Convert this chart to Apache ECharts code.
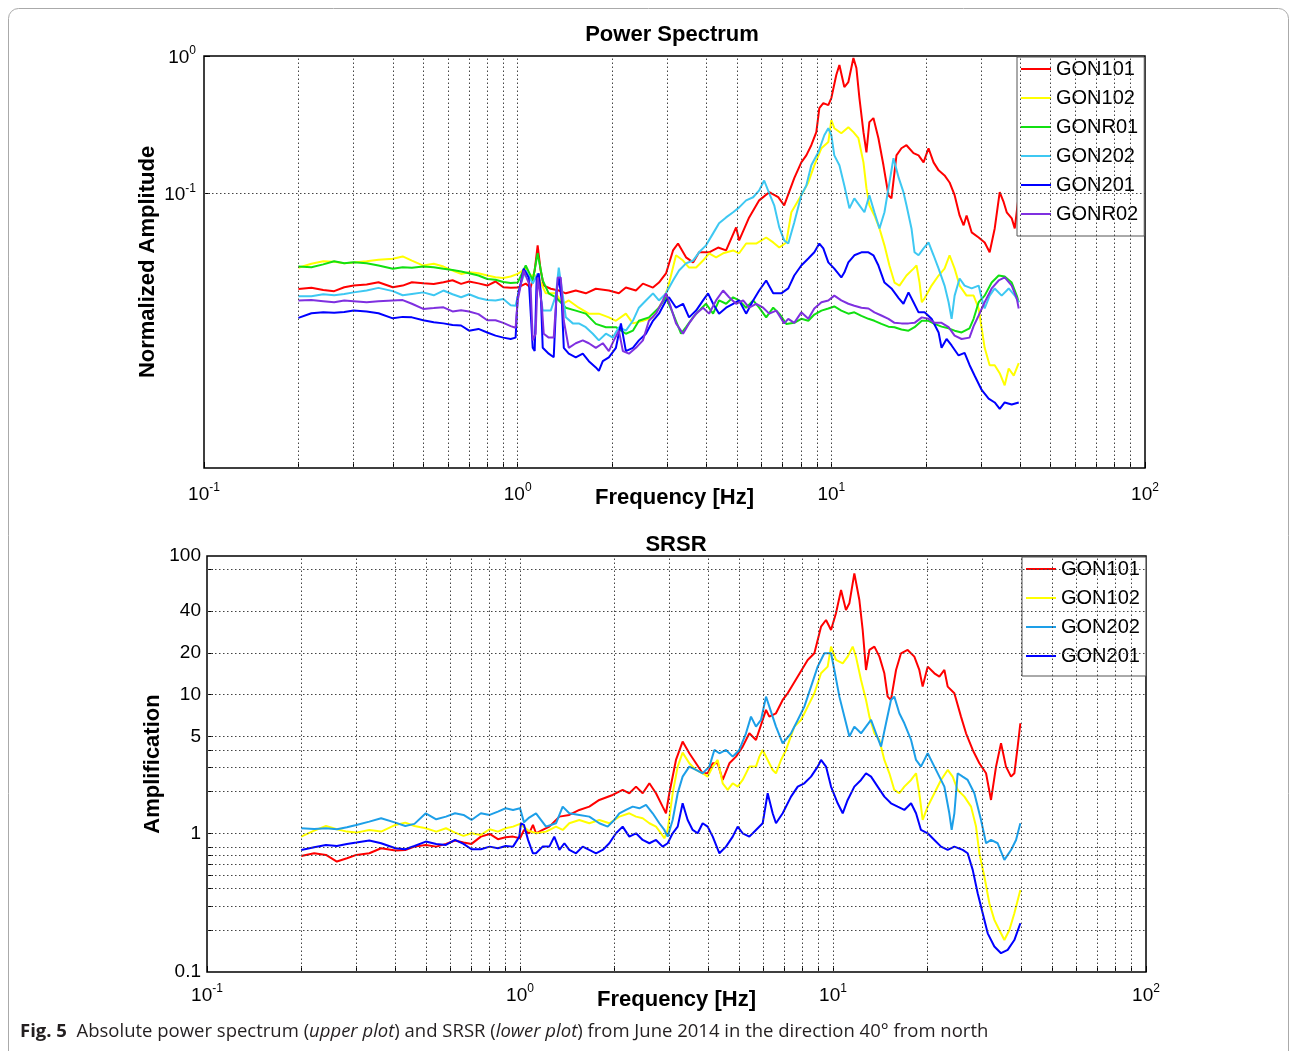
<!DOCTYPE html>
<html>
<head>
<meta charset="utf-8">
<script src="https://cdn.jsdelivr.net/npm/echarts@6/dist/echarts.min.js"></script>
<style>
html, body { margin: 0; padding: 0; background: #fff; }
#chart { width: 1290px; height: 1051px; }
</style>
</head>
<body>
<div id="chart"></div>
<script>
// ---- data: [frequency Hz, value] ----
var ps_gon101 = [[0.2,0.0201],[0.22,0.0205],[0.24,0.0198],[0.26,0.0194],[0.28,0.0207],[0.3,0.0213],[0.33,0.0217],[0.36,0.0225],[0.4,0.0207],[0.43,0.0213],[0.46,0.0225],[0.5,0.0221],[0.54,0.0219],[0.58,0.0225],[0.62,0.0233],[0.66,0.0219],[0.7,0.0228],[0.75,0.0221],[0.8,0.0213],[0.85,0.0228],[0.9,0.0207],[0.95,0.0205],[1.0,0.0206],
  [1.061,0.0220],[1.1,0.0206],[1.133,0.0274],[1.158,0.0418],[1.184,0.0274],[1.211,0.0213],[1.275,0.0202],[1.352,0.0196],[1.424,0.0187],[1.532,0.0196],[1.649,0.0187],[1.775,0.0202],[1.953,0.0196],[2.102,0.0187],[2.213,0.0206],[2.382,0.0196],[2.508,0.0220],[2.7,0.0206],[2.821,0.0224],[2.971,0.0261],[3.128,0.0384],[3.245,0.0431],[3.441,0.0342],[3.624,0.0314],[3.787,0.0372],[4.076,0.0372],[4.355,0.0403],[4.618,0.0384],[4.971,0.0565],[5.083,0.0454],[5.47,0.0668],[5.888,0.0889],[6.339,0.102],[6.771,0.0937],[7.075,0.0818],[7.617,0.129],[8.021,0.168],[8.322,0.189],[8.633,0.224],[8.957,0.279],[9.157,0.417],[9.428,0.454],[9.781,0.439],[10.0,0.494],[10.37,0.727],[10.61,0.86],[11.0,0.594],[11.33,0.646],[11.76,0.967],[12.02,0.818],[12.29,0.494],[12.66,0.279],[12.94,0.199],[13.22,0.33],[13.62,0.353],[14.13,0.252],[14.66,0.16],[15.21,0.0969],[15.55,0.0919],[16.13,0.189],[16.73,0.213],[17.36,0.224],[18.28,0.196],[18.97,0.189],[19.68,0.168],[20.41,0.213],[21.18,0.168],[21.98,0.147],[22.96,0.135],[23.82,0.12],[24.72,0.0969],[25.64,0.069],[26.41,0.0585],[26.99,0.069],[28.01,0.052],[29.49,0.0477],[30.82,0.0439],[31.97,0.0372],[33.18,0.0555],[34.42,0.102],[35.44,0.0862],[36.24,0.0728],[37.6,0.0657],[38.44,0.0555],[39.58,0.0969]];

var ps_gon102 = [[0.2,0.0287],[0.22,0.0307],[0.24,0.032],[0.26,0.0318],[0.28,0.031],[0.3,0.0313],[0.33,0.032],[0.36,0.0328],[0.4,0.0334],[0.43,0.0347],[0.46,0.0324],[0.5,0.0298],[0.54,0.0307],[0.58,0.0293],[0.62,0.0274],[0.66,0.0259],[0.7,0.0266],[0.75,0.0262],[0.8,0.0252],[0.85,0.0245],[0.9,0.0242],[0.95,0.0248],[1.0,0.0259],
  [1.061,0.0283],[1.1,0.0252],[1.158,0.0252],[1.229,0.0187],[1.323,0.0187],[1.393,0.0157],[1.455,0.0166],[1.566,0.0147],[1.686,0.0133],[1.815,0.0133],[1.953,0.0125],[2.057,0.0118],[2.213,0.0133],[2.33,0.0113],[2.508,0.0118],[2.7,0.0125],[2.906,0.0166],[3.015,0.0206],[3.198,0.0354],[3.367,0.0324],[3.518,0.0288],[3.706,0.0288],[3.9,0.0324],[4.076,0.0366],[4.291,0.0342],[4.518,0.0366],[4.863,0.0384],[5.083,0.0366],[5.35,0.0431],[5.76,0.0431],[6.199,0.0477],[6.527,0.0439],[6.823,0.0403],[7.184,0.0439],[7.457,0.0728],[8.021,0.0969],[8.445,0.12],[8.825,0.16],[9.3,0.213],[9.781,0.236],[10.0,0.341],[10.22,0.298],[10.76,0.274],[11.33,0.303],[11.76,0.279],[12.2,0.252],[12.66,0.168],[12.94,0.109],[13.22,0.0818],[13.72,0.069],[14.24,0.0555],[14.77,0.0418],[15.32,0.0298],[15.9,0.0224],[16.49,0.0213],[17.36,0.0252],[18.28,0.0283],[18.69,0.0298],[19.11,0.0224],[19.43,0.0161],[19.83,0.0172],[20.87,0.0213],[21.98,0.0252],[22.96,0.0283],[23.82,0.0354],[24.72,0.0283],[25.64,0.0213],[26.99,0.018],[28.42,0.018],[29.49,0.0145],[30.15,0.0104],[30.82,0.0075],[31.97,0.0056],[33.18,0.0056],[34.42,0.0049],[35.7,0.004],[36.77,0.0053],[38.15,0.0047],[39.58,0.0058]];

var ps_gonr01 = [[0.2,0.0293],[0.22,0.029],[0.24,0.0304],[0.26,0.032],[0.28,0.031],[0.3,0.0315],[0.33,0.031],[0.36,0.0298],[0.4,0.0282],[0.43,0.029],[0.46,0.0287],[0.5,0.0293],[0.54,0.029],[0.58,0.0282],[0.62,0.0277],[0.66,0.027],[0.7,0.0262],[0.75,0.0252],[0.8,0.0238],[0.85,0.0235],[0.9,0.0226],[0.95,0.0222],[1.0,0.0224],
  [1.061,0.0298],[1.117,0.0232],[1.158,0.0366],[1.202,0.0232],[1.256,0.0187],[1.323,0.0175],[1.424,0.0147],[1.532,0.014],[1.649,0.0133],[1.775,0.0112],[1.911,0.0106],[2.057,0.0106],[2.213,0.0095],[2.33,0.01],[2.435,0.0118],[2.621,0.0125],[2.821,0.0147],[2.971,0.0175],[3.128,0.0133],[3.318,0.0095],[3.441,0.0106],[3.624,0.0125],[3.787,0.014],[3.986,0.0157],[4.198,0.0133],[4.386,0.0166],[4.618,0.0157],[4.863,0.0175],[5.083,0.0166],[5.35,0.0147],[5.634,0.0166],[5.888,0.0147],[6.199,0.0125],[6.527,0.0147],[6.823,0.0133],[7.184,0.0112],[7.617,0.0114],[8.021,0.0122],[8.445,0.0118],[8.825,0.0131],[9.3,0.014],[9.781,0.0145],[10.22,0.015],[10.76,0.014],[11.33,0.0133],[11.84,0.0136],[12.47,0.0128],[13.13,0.0122],[13.72,0.0118],[14.44,0.0112],[15.21,0.0107],[15.9,0.0106],[16.73,0.0102],[17.62,0.01],[18.42,0.0106],[19.43,0.0118],[20.41,0.0118],[21.34,0.0112],[22.46,0.0107],[23.65,0.0104],[24.72,0.01],[26.02,0.0097],[27.57,0.0104],[28.42,0.0122],[29.49,0.0161],[30.82,0.018],[32.45,0.0224],[34.16,0.0252],[35.7,0.0248],[37.59,0.0224],[39.0,0.018],[39.58,0.0161]];

var ps_gon202 = [[0.2,0.0178],[0.22,0.0178],[0.24,0.0184],[0.26,0.0181],[0.28,0.0185],[0.3,0.019],[0.33,0.0196],[0.36,0.0205],[0.4,0.0194],[0.43,0.0181],[0.46,0.0185],[0.5,0.019],[0.54,0.0181],[0.58,0.0196],[0.62,0.0184],[0.66,0.0175],[0.7,0.0184],[0.75,0.0173],[0.8,0.0167],[0.85,0.0166],[0.9,0.017],[0.95,0.0153],[0.985,0.0152],
  [1.022,0.022],[1.061,0.0274],[1.117,0.022],[1.158,0.0261],[1.202,0.014],[1.275,0.014],[1.323,0.018],[1.352,0.0288],[1.393,0.018],[1.424,0.0125],[1.499,0.0113],[1.566,0.0113],[1.649,0.0106],[1.736,0.0095],[1.815,0.0085],[1.911,0.0095],[2.012,0.0089],[2.102,0.0106],[2.213,0.01],[2.33,0.0118],[2.435,0.0147],[2.564,0.0166],[2.7,0.0187],[2.821,0.0166],[2.971,0.0187],[3.128,0.0232],[3.269,0.0274],[3.441,0.0309],[3.624,0.0324],[3.787,0.0372],[3.986,0.0418],[4.198,0.0511],[4.386,0.0606],[4.618,0.0668],[4.863,0.0728],[5.083,0.079],[5.35,0.0889],[5.634,0.0937],[5.888,0.105],[6.107,0.124],[6.339,0.1],[6.575,0.0818],[6.823,0.0565],[7.075,0.0454],[7.29,0.0431],[7.617,0.0614],[8.021,0.0969],[8.322,0.114],[8.633,0.16],[9.089,0.199],[9.497,0.265],[9.781,0.298],[10.0,0.265],[10.22,0.189],[10.61,0.16],[11.0,0.114],[11.42,0.0777],[11.84,0.0919],[12.29,0.0818],[12.75,0.0728],[13.22,0.0969],[13.72,0.0728],[14.24,0.0555],[14.77,0.0728],[15.32,0.12],[15.78,0.18],[16.41,0.129],[16.98,0.102],[17.36,0.0818],[18.01,0.0555],[18.42,0.0372],[18.97,0.0354],[19.68,0.0397],[20.41,0.0439],[21.18,0.0354],[21.98,0.0283],[22.96,0.0213],[23.65,0.0161],[24.18,0.0122],[24.72,0.018],[25.64,0.024],[26.6,0.0213],[28.01,0.0203],[29.49,0.0213],[30.15,0.0172],[30.82,0.0145],[31.97,0.018],[33.18,0.0203],[34.92,0.018],[36.77,0.0203],[38.44,0.018],[39.58,0.0161]];

var ps_gon201 = [[0.2,0.0124],[0.22,0.0134],[0.24,0.0136],[0.26,0.0135],[0.28,0.0137],[0.3,0.014],[0.33,0.0138],[0.36,0.0134],[0.4,0.0123],[0.43,0.0126],[0.46,0.0125],[0.5,0.0119],[0.54,0.0115],[0.58,0.0113],[0.62,0.011],[0.66,0.0109],[0.7,0.01],[0.75,0.0103],[0.8,0.0097],[0.85,0.0092],[0.9,0.0089],[0.95,0.0087],[0.985,0.0089],
  [1.0,0.0175],[1.022,0.022],[1.045,0.0283],[1.084,0.0244],[1.117,0.0075],[1.133,0.0071],[1.15,0.0244],[1.167,0.0261],[1.184,0.0196],[1.202,0.0075],[1.256,0.0068],[1.303,0.0064],[1.332,0.0196],[1.352,0.0244],[1.382,0.0166],[1.403,0.0075],[1.455,0.0068],[1.532,0.0064],[1.613,0.0068],[1.686,0.006],[1.775,0.0054],[1.815,0.0051],[1.868,0.006],[1.953,0.0064],[2.057,0.0075],[2.134,0.0113],[2.213,0.0071],[2.33,0.0075],[2.435,0.0085],[2.564,0.0095],[2.7,0.0118],[2.821,0.0133],[2.971,0.0166],[3.037,0.0175],[3.198,0.0147],[3.367,0.0157],[3.518,0.0125],[3.706,0.014],[3.9,0.0166],[4.046,0.0187],[4.198,0.0157],[4.386,0.0133],[4.618,0.0147],[4.863,0.0157],[5.083,0.0166],[5.35,0.0133],[5.634,0.0166],[5.888,0.0196],[6.199,0.0232],[6.527,0.0187],[6.923,0.0187],[7.29,0.0203],[7.617,0.0252],[8.021,0.0298],[8.445,0.0335],[8.825,0.0372],[9.157,0.0431],[9.428,0.0397],[9.781,0.0314],[10.22,0.0283],[10.76,0.0244],[11.0,0.0265],[11.33,0.0314],[11.84,0.0354],[12.47,0.0372],[13.13,0.0372],[13.62,0.0354],[14.13,0.0298],[14.77,0.0224],[15.55,0.0203],[16.41,0.0172],[16.98,0.0157],[17.62,0.019],[18.28,0.0161],[18.97,0.0136],[19.83,0.0136],[20.87,0.0122],[21.98,0.0097],[22.46,0.0075],[23.3,0.0087],[24.18,0.0078],[25.45,0.0066],[26.6,0.0069],[27.6,0.0056],[28.64,0.0047],[30.15,0.0037],[31.73,0.0032],[33.18,0.003],[34.42,0.0027],[35.7,0.003],[37.59,0.0029],[39.58,0.003]];

var ps_gonr02 = [[0.2,0.0166],[0.22,0.0167],[0.24,0.0164],[0.26,0.0161],[0.28,0.0166],[0.3,0.0164],[0.33,0.0161],[0.36,0.0164],[0.4,0.0166],[0.43,0.0167],[0.46,0.0157],[0.5,0.0144],[0.54,0.0146],[0.58,0.0148],[0.62,0.0138],[0.66,0.0141],[0.7,0.0138],[0.75,0.0132],[0.8,0.0119],[0.85,0.0119],[0.9,0.0114],[0.95,0.0108],[0.985,0.0105],
  [1.0,0.0166],[1.045,0.0274],[1.1,0.0206],[1.117,0.0085],[1.141,0.0095],[1.158,0.0244],[1.193,0.0157],[1.211,0.0095],[1.256,0.0089],[1.303,0.0089],[1.342,0.0244],[1.372,0.0244],[1.403,0.0118],[1.455,0.0075],[1.532,0.0081],[1.613,0.0085],[1.686,0.0081],[1.775,0.0075],[1.868,0.0081],[1.953,0.0071],[2.026,0.0085],[2.102,0.01],[2.165,0.0071],[2.263,0.0068],[2.382,0.0075],[2.508,0.0085],[2.621,0.0118],[2.76,0.0133],[2.906,0.0166],[2.971,0.0187],[3.082,0.0147],[3.198,0.0113],[3.367,0.0095],[3.518,0.0113],[3.706,0.0133],[3.9,0.0147],[4.076,0.0133],[4.291,0.0166],[4.518,0.0196],[4.722,0.0175],[4.971,0.0157],[5.234,0.0166],[5.47,0.0147],[5.76,0.0157],[6.062,0.0147],[6.339,0.0133],[6.674,0.014],[7.075,0.0113],[7.29,0.0122],[7.617,0.0114],[8.021,0.0136],[8.445,0.0122],[8.825,0.0145],[9.3,0.0161],[9.781,0.0166],[10.22,0.018],[10.76,0.0166],[11.33,0.0157],[11.84,0.0152],[12.47,0.0147],[13.13,0.0145],[13.72,0.0136],[14.44,0.0129],[15.21,0.0122],[15.9,0.0114],[16.73,0.0113],[17.62,0.0113],[18.42,0.0114],[19.43,0.0125],[20.41,0.0122],[21.34,0.0114],[22.46,0.0114],[23.65,0.0106],[24.72,0.0092],[26.02,0.0087],[27.57,0.0089],[28.42,0.0108],[29.49,0.0129],[30.82,0.0161],[32.45,0.0203],[34.16,0.0232],[35.7,0.0244],[37.59,0.0213],[39.0,0.0172],[39.58,0.0145]];

var sr_gon101 = [[0.2,0.687],[0.22,0.718],[0.24,0.699],[0.26,0.626],[0.28,0.661],[0.3,0.699],[0.33,0.718],[0.36,0.78],[0.4,0.751],[0.43,0.759],[0.46,0.802],[0.5,0.825],[0.54,0.802],[0.58,0.839],[0.62,0.887],[0.66,0.858],[0.7,0.839],[0.75,0.947],[0.8,0.99],[0.85,0.907],[0.9,0.936],[0.95,0.947],[1.0,0.922],
  [1.03,1.058],[1.07,1.0],[1.1,1.15],[1.125,1.001],[1.181,1.058],[1.241,1.118],[1.336,1.32],[1.437,1.357],[1.547,1.475],[1.665,1.558],[1.792,1.741],[1.977,1.891],[2.128,2.056],[2.235,1.945],[2.348,2.173],[2.466,1.945],[2.59,2.296],[2.72,1.945],[2.856,1.558],[2.927,1.395],[3.0,1.945],[3.15,3.382],[3.308,4.586],[3.475,3.778],[3.65,3.2],[3.833,2.711],[3.977,2.711],[4.128,3.2],[4.281,3.2],[4.442,2.427],[4.666,3.2],[4.899,3.574],[5.145,4.221],[5.404,5.267],[5.675,4.716],[5.961,6.571],[6.109,7.76],[6.26,6.947],[6.574,7.34],[6.906,9.16],[7.165,10.23],[7.716,13.5],[8.301,17.8],[8.719,19.88],[9.157,30.94],[9.5,34.56],[9.856,29.28],[10.22,38.61],[10.61,56.88],[11.0,40.8],[11.28,45.59],[11.7,75.0],[12.14,48.17],[12.44,29.28],[12.75,15.07],[13.07,21.01],[13.56,22.2],[14.07,18.8],[14.59,14.26],[14.95,9.68],[15.32,9.16],[15.9,15.07],[16.49,19.88],[17.32,21.01],[18.19,18.8],[18.87,15.07],[19.34,11.43],[20.07,15.93],[21.08,14.26],[21.87,13.5],[22.69,15.07],[23.25,11.43],[24.42,10.23],[25.64,6.947],[26.61,5.267],[27.95,3.993],[29.35,3.2],[30.83,2.711],[31.98,1.741],[33.18,3.028],[34.42,4.461],[35.7,3.028],[37.05,2.564],[37.97,2.711],[38.91,4.221],[39.68,6.22]];

var sr_gon102 = [[0.2,0.947],[0.22,1.047],[0.24,1.13],[0.26,1.07],[0.28,1.029],[0.3,1.012],[0.33,1.058],[0.36,1.029],[0.4,1.15],[0.43,1.195],[0.46,1.13],[0.5,1.088],[0.54,1.029],[0.58,1.088],[0.62,1.012],[0.66,0.958],[0.7,1.001],[0.75,0.974],[0.8,1.07],[0.85,1.029],[0.9,1.088],[0.95,1.118],[1.0,1.17],
  [1.06,1.05],[1.125,1.001],[1.211,1.029],[1.303,1.118],[1.369,1.058],[1.437,1.182],[1.547,1.249],[1.665,1.182],[1.792,1.249],[1.929,1.182],[2.077,1.32],[2.235,1.395],[2.348,1.32],[2.466,1.284],[2.59,1.182],[2.72,1.118],[2.821,1.001],[2.892,0.921],[2.964,1.058],[3.074,1.945],[3.19,3.028],[3.308,3.82],[3.475,3.2],[3.65,2.865],[3.833,2.711],[3.977,2.564],[4.128,3.028],[4.281,3.382],[4.442,2.296],[4.609,2.056],[4.782,2.296],[4.96,2.173],[5.145,2.427],[5.404,3.028],[5.675,3.028],[5.817,3.574],[5.961,3.993],[6.184,3.382],[6.416,2.865],[6.574,2.711],[6.823,3.382],[7.078,3.993],[7.523,5.885],[7.906,6.571],[8.301,8.2],[8.719,10.23],[9.157,14.26],[9.616,15.93],[9.856,22.2],[10.22,17.8],[10.74,16.84],[11.14,18.8],[11.56,22.2],[11.84,18.8],[12.29,12.76],[12.75,9.16],[13.07,6.947],[13.56,5.267],[14.07,4.716],[14.59,3.382],[15.14,2.711],[15.7,2.056],[16.29,1.945],[16.9,2.173],[17.76,2.427],[18.42,2.711],[18.87,1.945],[19.34,1.249],[20.07,1.558],[21.08,1.945],[22.14,2.427],[23.25,2.865],[24.12,2.564],[25.02,2.056],[26.29,1.84],[27.61,1.558],[28.64,1.118],[29.35,0.718],[30.45,0.488],[31.59,0.313],[32.77,0.2375],[34.0,0.201],[35.28,0.17],[36.6,0.201],[37.97,0.265],[39.68,0.391]];

var sr_gon202 = [[0.2,1.088],[0.22,1.076],[0.24,1.088],[0.26,1.07],[0.28,1.106],[0.3,1.15],[0.33,1.215],[0.36,1.284],[0.4,1.195],[0.43,1.13],[0.46,1.17],[0.5,1.395],[0.54,1.262],[0.58,1.32],[0.62,1.395],[0.66,1.357],[0.7,1.249],[0.75,1.395],[0.8,1.357],[0.85,1.435],[0.9,1.516],[0.95,1.475],[1.0,1.516],
  [1.03,1.2],[1.07,1.3],[1.125,1.395],[1.211,1.118],[1.303,1.182],[1.369,1.558],[1.437,1.395],[1.547,1.357],[1.665,1.32],[1.792,1.182],[1.906,1.118],[2.001,1.249],[2.077,1.395],[2.181,1.475],[2.291,1.558],[2.406,1.516],[2.527,1.602],[2.654,1.395],[2.787,1.182],[2.892,1.058],[2.964,0.947],[3.074,1.249],[3.19,1.945],[3.308,2.564],[3.475,3.028],[3.65,2.865],[3.833,2.711],[4.027,3.028],[4.178,3.993],[4.335,3.778],[4.552,3.993],[4.782,3.574],[5.021,3.993],[5.272,5.267],[5.47,6.947],[5.675,5.885],[5.888,6.571],[6.109,9.68],[6.26,8.2],[6.574,5.885],[6.906,4.461],[7.343,5.267],[7.716,6.571],[8.099,8.2],[8.508,11.43],[8.935,15.93],[9.383,19.88],[9.856,19.88],[10.1,15.07],[10.48,9.68],[10.87,6.947],[11.28,4.983],[11.7,5.885],[12.29,5.267],[12.75,5.885],[13.23,6.571],[13.72,5.267],[14.24,4.221],[14.77,6.22],[15.32,9.16],[15.7,9.68],[16.29,7.34],[16.9,6.22],[17.76,4.716],[18.42,3.382],[19.1,3.028],[20.07,3.778],[21.08,3.028],[21.87,2.564],[22.69,2.173],[23.53,1.395],[23.94,1.058],[24.42,1.395],[25.02,2.711],[25.96,2.564],[26.93,2.427],[28.29,1.945],[29.71,1.249],[30.83,0.848],[31.98,0.896],[33.59,0.848],[35.28,0.643],[37.05,0.759],[38.44,0.896],[39.68,1.182]];

var sr_gon201 = [[0.2,0.759],[0.22,0.793],[0.24,0.825],[0.26,0.811],[0.28,0.839],[0.3,0.858],[0.33,0.887],[0.36,0.848],[0.4,0.78],[0.43,0.768],[0.46,0.811],[0.5,0.872],[0.54,0.839],[0.58,0.825],[0.62,0.897],[0.66,0.839],[0.7,0.768],[0.75,0.768],[0.8,0.802],[0.85,0.78],[0.9,0.811],[0.95,0.802],[0.995,0.947],
  [1.007,1.182],[1.03,1.15],[1.061,0.897],[1.1,0.718],[1.125,0.718],[1.181,0.802],[1.241,0.802],[1.287,0.947],[1.336,0.759],[1.386,0.848],[1.437,0.759],[1.51,0.718],[1.586,0.802],[1.665,0.759],[1.749,0.718],[1.837,0.759],[1.929,0.848],[2.026,1.001],[2.128,1.118],[2.235,0.947],[2.348,1.001],[2.466,0.896],[2.59,0.848],[2.72,0.896],[2.856,0.802],[2.964,0.848],[3.074,1.001],[3.19,1.118],[3.308,1.647],[3.433,1.249],[3.562,1.058],[3.695,1.001],[3.833,1.182],[3.977,1.118],[4.128,0.947],[4.335,0.718],[4.552,0.802],[4.782,0.947],[4.96,1.118],[5.145,1.001],[5.404,0.947],[5.675,1.058],[5.961,1.182],[6.184,1.945],[6.416,1.395],[6.574,1.182],[6.906,1.395],[7.343,1.84],[7.716,2.173],[8.099,2.296],[8.508,2.564],[8.935,3.028],[9.157,3.382],[9.5,3.028],[9.856,2.173],[10.35,1.647],[10.74,1.395],[11.14,1.741],[11.7,2.173],[12.29,2.427],[12.75,2.711],[13.23,2.564],[13.89,2.173],[14.59,1.84],[15.32,1.647],[16.09,1.558],[16.9,1.475],[17.76,1.647],[18.42,1.395],[19.1,1.058],[20.07,1.001],[21.08,0.896],[22.14,0.802],[23.25,0.759],[24.42,0.802],[25.96,0.759],[26.93,0.718],[27.95,0.545],[28.99,0.37],[30.08,0.265],[31.21,0.19],[32.77,0.1526],[34.42,0.1366],[36.15,0.1443],[37.97,0.17],[39.68,0.2247]];

// axis / grid values
var freqGrid = [0.2,0.3,0.4,0.5,0.6,0.7,0.8,0.9,1,2,3,4,5,6,7,8,9,10,20,30,40,50,60,70,80,90];
var freqTicks = [0.1].concat(freqGrid, [100]);
var psGridY = [0.1];
var psTicks = [0.1, 1];
var ampGrid = [0.2,0.3,0.4,0.5,0.6,0.7,0.8,1,2,3,4,5,10,20,40,80];
var ampLabels = [0.1,1,5,10,20,40,100];

var psNames = ['GON101','GON102','GONR01','GON202','GON201','GONR02'];
var srNames = ['GON101','GON102','GON202','GON201'];

// ---- chart ----
var FONT = '"Liberation Sans", Arial, Helvetica, sans-serif';
var CAPFONT = '"Open Sans", sans-serif';
var psColors = ['#ff0000','#ffff00','#11e011','#3ec8f2','#0000ff','#7f30e0'];
var srColors = ['#ff0000','#ffff00','#1d9fe8','#0000ff'];

var chart = echarts.init(document.getElementById('chart'));

function powLabel(v) {
    var e = Math.round(Math.log(v) / Math.LN10);
    return '{b|10}{s|' + e + '}';
}
var richPow = {
    b: { fontSize: 19, fontFamily: FONT, color: '#000', verticalAlign: 'bottom' },
    s: { fontSize: 12, fontFamily: FONT, color: '#000', verticalAlign: 'bottom', padding: [0, 0, 10, 0] }
};
var nameStyle = { fontSize: 22, fontWeight: 'bold', fontFamily: FONT, color: '#000' };

function lineSeries(name, data, color, idx) {
    return {
        name: name, type: 'line', xAxisIndex: idx, yAxisIndex: idx, data: data,
        symbol: 'none', showSymbol: false, z: 3,
        lineStyle: { color: color, width: 2 }, itemStyle: { color: color },
        emphasis: { disabled: true }
    };
}

function gridSeries(idx, ys) {
    var d = [];
    freqGrid.forEach(function (v) { d.push({ xAxis: v }); });
    ys.forEach(function (v) { d.push({ yAxis: v }); });
    return {
        type: 'line', xAxisIndex: idx, yAxisIndex: idx, data: [], z: 1, silent: true,
        markLine: {
            silent: true, symbol: ['none', 'none'], animation: false,
            label: { show: false },
            lineStyle: { color: '#444', width: 1, type: [1.5, 2.5] },
            data: d
        }
    };
}

function freqAxis(idx, margin, gap) {
    return {
        type: 'log', logBase: 10, min: 0.1, max: 100, gridIndex: idx,
        axisLine: { show: false }, splitLine: { show: false },
        axisTick: { show: true, inside: true, length: 6, lineStyle: { color: '#000' }, customValues: freqTicks },
        axisLabel: { formatter: powLabel, margin: margin, rich: richPow, color: '#000' },
        name: 'Frequency [Hz]', nameLocation: 'middle', nameGap: gap, nameMoveOverlap: false,
        nameTextStyle: nameStyle
    };
}

var series = [gridSeries(0, psGridY), gridSeries(1, ampGrid)];
var psData = [ps_gon101, ps_gon102, ps_gonr01, ps_gon202, ps_gon201, ps_gonr02];
psNames.forEach(function (n, i) { series.push(lineSeries(n, psData[i], psColors[i], 0)); });
var srData = [sr_gon101, sr_gon102, sr_gon202, sr_gon201];
srNames.forEach(function (n, i) { series.push(lineSeries(n, srData[i], srColors[i], 1)); });

var legendBase = {
    orient: 'vertical', icon: 'rect', itemWidth: 30, itemHeight: 2, itemGap: 9,
    borderColor: '#555', borderWidth: 1, backgroundColor: '#fff',
    textStyle: { fontSize: 20, fontFamily: FONT, color: '#000' },
    selectedMode: false
};

var option = {
    animation: false,
    backgroundColor: '#fff',
    grid: [
        { left: 204, top: 56, width: 941, height: 412, show: true, borderColor: '#000', borderWidth: 1.5, backgroundColor: 'transparent' },
        { left: 207, top: 556, width: 939, height: 416, show: true, borderColor: '#000', borderWidth: 1.5, backgroundColor: 'transparent' }
    ],
    xAxis: [freqAxis(0, 14, 19), freqAxis(1, 11, 17)],
    yAxis: [
        {
            type: 'log', logBase: 10, min: 0.001, max: 1, gridIndex: 0,
            axisLine: { show: false }, splitLine: { show: false },
            axisTick: { show: true, inside: true, length: 6, lineStyle: { color: '#000' }, customValues: psTicks },
            axisLabel: {
                margin: 8, rich: richPow, color: '#000',
                formatter: function (v) {
                    var e = Math.round(Math.log(v) / Math.LN10);
                    return e >= -1 ? powLabel(v) : '';
                }
            },
            name: 'Normalized Amplitude', nameLocation: 'middle', nameGap: 45, nameMoveOverlap: false,
            nameTextStyle: nameStyle
        },
        {
            type: 'log', logBase: 10, min: 0.1, max: 100, gridIndex: 1,
            axisLine: { show: false }, splitLine: { show: false },
            axisTick: { show: true, inside: true, length: 6, lineStyle: { color: '#000' }, customValues: ampGrid },
            axisLabel: {
                margin: 6, color: '#000', fontSize: 19, fontFamily: FONT,
                customValues: ampLabels,
                formatter: function (v) { return String(+(+v).toPrecision(3)); }
            },
            name: 'Amplification', nameLocation: 'middle', nameGap: 43, nameMoveOverlap: false,
            nameTextStyle: nameStyle
        }
    ],
    legend: [
        Object.assign({}, legendBase, { left: 1017, top: 57, padding: [2, 6, 12, 4], data: psNames }),
        Object.assign({}, legendBase, {
            left: 1022, top: 557, padding: [2, 6, 10, 4],
            data: ['GON101', 'GON102',
                { name: 'GON202', itemStyle: { color: srColors[2] } },
                'GON201']
        })
    ],
    graphic: [
        { type: 'rect', silent: true, z: -10, shape: { x: 8.5, y: 8.5, width: 1280, height: 1060, r: 10 },
          style: { fill: 'none', stroke: '#aaa', lineWidth: 1 } },
        { type: 'text', x: 672, y: 35, silent: true,
          style: { text: 'Power Spectrum', font: 'bold 22px ' + FONT, fill: '#000', align: 'center', verticalAlign: 'middle' } },
        { type: 'text', x: 676, y: 545, silent: true,
          style: { text: 'SRSR', font: 'bold 22px ' + FONT, fill: '#000', align: 'center', verticalAlign: 'middle' } },
        { type: 'text', x: 20, y: 1032, silent: true,
          style: {
              text: '{b|Fig. 5}  Absolute power spectrum ({i|upper plot}) and SRSR ({i|lower plot}) from June 2014 in the direction 40° from north',
              font: '18.5px ' + CAPFONT, fill: '#231f20', align: 'left', verticalAlign: 'middle',
              rich: {
                  b: { fontWeight: 'bold', fontSize: 18.5, fontFamily: CAPFONT, fill: '#231f20' },
                  i: { fontStyle: 'italic', fontSize: 18.5, fontFamily: CAPFONT, fill: '#231f20' }
              }
          } }
    ],
    series: series
};

chart.setOption(option);
</script>
</body>
</html>
